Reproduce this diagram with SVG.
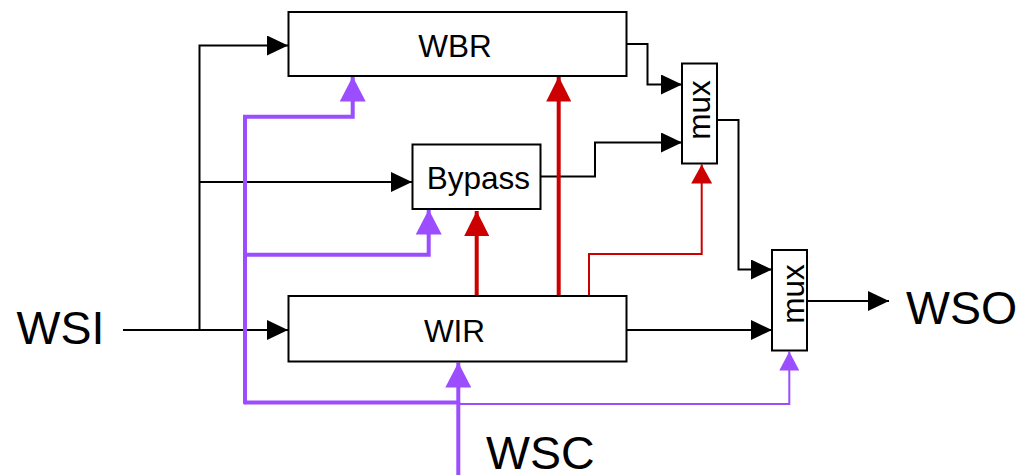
<svg xmlns="http://www.w3.org/2000/svg" width="1021" height="475" viewBox="0 0 1021 475">
<style>
.box{fill:#fff;stroke:#000;stroke-width:2}
.lbl{font-family:"Liberation Sans",Arial,sans-serif;font-size:31.5px;fill:#000}
.big{font-family:"Liberation Sans",Arial,sans-serif;font-size:46.5px;fill:#000}
.blk{fill:none;stroke:#000;stroke-width:2}
.pth{fill:none;stroke:#9b4dff;stroke-width:4;stroke-linecap:round}
.ptn{fill:none;stroke:#9b4dff;stroke-width:2}
.rth{fill:none;stroke:#cc0000;stroke-width:4}
.rtn{fill:none;stroke:#cc0000;stroke-width:2}
</style>
<defs>
<marker id="ab" markerUnits="userSpaceOnUse" markerWidth="21" markerHeight="20" refX="21" refY="10" orient="auto"><path d="M0,0 L21,10 L0,20 z" fill="#000"/></marker>
<marker id="ap" markerUnits="userSpaceOnUse" markerWidth="25" markerHeight="26" refX="25" refY="13" orient="auto"><path d="M0,0 L25,13 L0,26 z" fill="#9b4dff"/></marker>
<marker id="apt" markerUnits="userSpaceOnUse" markerWidth="19" markerHeight="20" refX="19" refY="10" orient="auto"><path d="M0,0 L19,10 L0,20 z" fill="#9b4dff"/></marker>
<marker id="ar" markerUnits="userSpaceOnUse" markerWidth="25" markerHeight="25" refX="25" refY="12.5" orient="auto"><path d="M0,0 L25,12.5 L0,25 z" fill="#cc0000"/></marker>
<marker id="art" markerUnits="userSpaceOnUse" markerWidth="19" markerHeight="21" refX="19" refY="10.5" orient="auto"><path d="M0,0 L19,10.5 L0,21 z" fill="#cc0000"/></marker>
</defs>
<g id="connectors">
<path class="blk" d="M123,330 H288" marker-end="url(#ab)"/>
<path class="blk" d="M199.5,330 V45.5 H288" marker-end="url(#ab)"/>
<path class="blk" d="M199.5,182 H412" marker-end="url(#ab)"/>
<path class="blk" d="M627,44 H647.5 V84.5 H682" marker-end="url(#ab)"/>
<path class="blk" d="M541,176.5 H595 V142.5 H682" marker-end="url(#ab)"/>
<path class="blk" d="M717,120 H738.5 V269.5 H772" marker-end="url(#ab)"/>
<path class="blk" d="M627,330 H772" marker-end="url(#ab)"/>
<path class="blk" d="M807,301 H889" marker-end="url(#ab)"/>
<path class="rth" d="M476.7,297 V211" marker-end="url(#ar)"/>
<path class="rth" d="M558.7,297 V76.5" marker-end="url(#ar)"/>
<path class="rtn" d="M589,297 V254 H701.7 V164.5" marker-end="url(#art)"/>
<path class="pth" d="M245,402.5 V116.7 H352.7 V76.5" marker-end="url(#ap)"/>
<path class="pth" d="M245,254.7 H428.7 V209.5" marker-end="url(#ap)"/>
<path class="pth" d="M245,402.5 H458.3"/>
<path class="ptn" d="M458,404 H789.3 V351.5" marker-end="url(#apt)"/>
<path class="pth" d="M458.3,476 V362.5" marker-end="url(#ap)" style="stroke-linecap:butt"/>
</g>
<g id="WBR">
<rect class="box" x="288.5" y="12" width="338" height="64"/>
<text class="lbl" x="455" y="57" text-anchor="middle">WBR</text>
</g>
<g id="Bypass">
<rect class="box" x="412.5" y="144.5" width="128" height="64.5"/>
<text class="lbl" x="478.3" y="189" text-anchor="middle">Bypass</text>
</g>
<g id="WIR">
<rect class="box" x="288.5" y="296" width="338" height="65.5"/>
<text class="lbl" x="454.5" y="341.5" text-anchor="middle">WIR</text>
</g>
<g id="mux1">
<rect class="box" x="682" y="63.5" width="35" height="100"/>
<text class="lbl" transform="translate(709.5,110) rotate(-90)" text-anchor="middle">mux</text>
</g>
<g id="mux2">
<rect class="box" x="772" y="250" width="35" height="100.5"/>
<text class="lbl" transform="translate(804,294) rotate(-90)" text-anchor="middle">mux</text>
</g>
<g id="WSI"><text class="big" x="16.5" y="344">WSI</text></g>
<g id="WSO"><text class="big" x="906" y="324">WSO</text></g>
<g id="WSC"><text class="big" x="486" y="469">WSC</text></g>
</svg>
